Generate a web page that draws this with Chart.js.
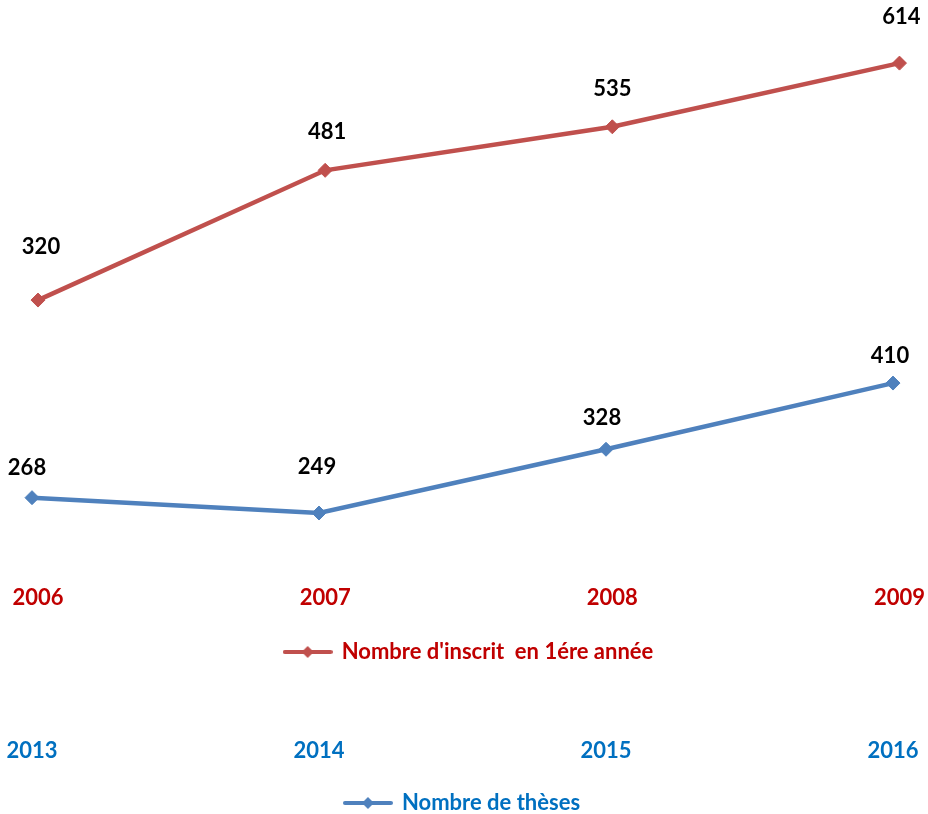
<!DOCTYPE html>
<html>
<head>
<meta charset="utf-8">
<script src="https://cdn.jsdelivr.net/npm/chart.js@4"></script>
<style>
  html, body { margin: 0; padding: 0; background: #fff; overflow: hidden; }
  .box { position: absolute; left: 0; top: 0; width: 928px; }
  #redBox { height: 673px; }
  #blueBox { height: 824px; }
</style>
</head>
<body>
<div class="box" id="blueBox"><canvas id="blueChart"></canvas></div>
<div class="box" id="redBox"><canvas id="redChart"></canvas></div>
<script>
// --- data ---
const inscritYears = ['2006', '2007', '2008', '2009'];
const inscritValues = [320, 481, 535, 614];
const thesesYears = ['2013', '2014', '2015', '2016'];
const thesesValues = [268, 249, 328, 410];

// label nudges (dx, dy above the point)
const inscritLabelShift = [[3, 53], [2, 38], [0, 38], [2, 46]];
const thesesLabelShift = [[-5, 30], [-2, 46], [-4, 31], [-3, 27]];

const FONT = 'Lato, "Open Sans", sans-serif';

// legend marker: short line with a diamond in the middle
function legendMarker(color) {
    const c = document.createElement('canvas');
    c.width = 50;
    c.height = 16;
    const ctx = c.getContext('2d');
    ctx.strokeStyle = color;
    ctx.lineWidth = 4;
    ctx.lineCap = 'round';
    ctx.beginPath();
    ctx.moveTo(2, 8);
    ctx.lineTo(48, 8);
    ctx.stroke();
    ctx.fillStyle = color;
    ctx.beginPath();
    ctx.moveTo(25, 2);
    ctx.lineTo(31, 8);
    ctx.lineTo(25, 14);
    ctx.lineTo(19, 8);
    ctx.closePath();
    ctx.fill();
    return c;
}

// draws the value above each point
const valueLabels = {
    id: 'valueLabels',
    afterDatasetsDraw(chart, args, opts) {
        const ctx = chart.ctx;
        const meta = chart.getDatasetMeta(0);
        const values = chart.data.datasets[0].data;
        ctx.save();
        ctx.font = 'bold 22px ' + FONT;
        ctx.fillStyle = '#000';
        ctx.textAlign = 'center';
        ctx.textBaseline = 'middle';
        meta.data.forEach(function(pt, i) {
            const s = opts.shift[i] || [0, 35];
            ctx.fillText(values[i], pt.x + s[0], pt.y - s[1]);
        });
        ctx.restore();
    }
};

function makeChart(id, cfg) {
    return new Chart(document.getElementById(id), {
        type: 'line',
        data: {
            labels: cfg.labels,
            datasets: [{
                label: cfg.name,
                data: cfg.values,
                borderColor: cfg.line,
                backgroundColor: cfg.line,
                borderWidth: 4.5,
                tension: 0,
                pointStyle: 'rectRot',
                pointRadius: 7,
                pointBorderWidth: 1,
                pointBackgroundColor: cfg.line,
                pointBorderColor: cfg.line,
                clip: false
            }]
        },
        options: {
            responsive: true,
            maintainAspectRatio: false,
            animation: false,
            layout: {
                autoPadding: false,
                padding: { left: cfg.padLeft, right: cfg.padRight, top: 0, bottom: 0 }
            },
            scales: {
                x: {
                    offset: false,
                    grid: { display: false, drawTicks: false },
                    border: { display: false },
                    ticks: {
                        color: cfg.text,
                        padding: 3,
                        maxRotation: 0,
                        // tall line box pushes the years down without widening side padding
                        font: { family: FONT, size: 22, weight: 'bold', lineHeight: cfg.tickLine + 'px' }
                    }
                },
                y: {
                    display: false,
                    min: 0,
                    max: cfg.yMax
                }
            },
            plugins: {
                legend: {
                    position: 'bottom',
                    labels: {
                        usePointStyle: true,
                        pointStyle: legendMarker(cfg.line),
                        pointStyleWidth: 46,
                        padding: cfg.legendPad,
                        color: cfg.text,
                        font: { family: FONT, size: 22, weight: 'bold' }
                    }
                },
                tooltip: { enabled: false },
                valueLabels: { shift: cfg.shift }
            }
        },
        plugins: [valueLabels]
    });
}

makeChart('redChart', {
    labels: inscritYears,
    values: inscritValues,
    name: "Nombre d'inscrit  en 1ére année",
    line: '#C0504D',
    text: '#C00000',
    padLeft: 38,
    padRight: 28,
    tickLine: 74,
    legendPad: 3,
    yMax: 692.3,
    shift: inscritLabelShift
});

makeChart('blueChart', {
    labels: thesesYears,
    values: thesesValues,
    name: 'Nombre de thèses',
    line: '#4F81BD',
    text: '#0070C0',
    padLeft: 32,
    padRight: 35,
    tickLine: 68,
    legendPad: 4,
    yMax: 884.6,
    shift: thesesLabelShift
});
</script>
</body>
</html>
